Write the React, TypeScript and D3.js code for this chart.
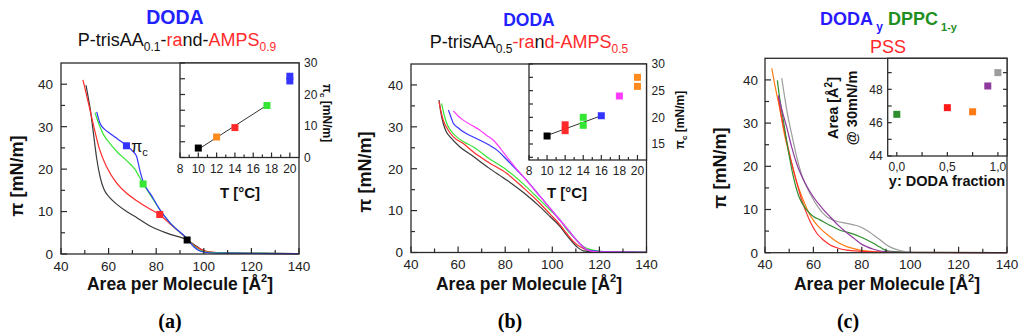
import React from "react";
import * as d3 from "d3";

type Pt = [number, number];
const FONT = "'Liberation Sans', Arial, Helvetica, sans-serif";
const SERIF = "'Liberation Serif', 'Times New Roman', serif";
const AX = "#2b2b2b";

const COL = {
  black: "#3a3a3a",
  red: "#ff2b2b",
  green: "#35e635",
  blue: "#3434ff",
  orange: "#ff8a1e",
  magenta: "#ff3cff",
  dgreen: "#2f8f2f",
  purple: "#8e3a9e",
  gray: "#9c9c9c",
  dorange: "#ff7a12",
};

// ---------- tick labels ----------
const areaTicks = [40, 60, 80, 100, 120, 140];
const areaMinor = [50, 70, 90, 110, 130];
const piTicks = [0, 10, 20, 30, 40];
const piMinor = [5, 15, 25, 35];
const tempTicks = [8, 10, 12, 14, 16, 18, 20];
const tempMinor = [9, 11, 13, 15, 17, 19];
const aPicTicks = [0, 10, 20, 30];
const aPicMinor = [5, 15, 25];
const bPicTicks = [15, 20, 25, 30];
const bPicMinor = [12.5, 17.5, 22.5, 27.5];
const fracTicks = [0, 0.5, 1.0];
const fracMinor = [0.25, 0.75];
const cAreaTicks = [44, 46, 48];
const cAreaMinor = [45, 47, 49];
const cAreaRight = [45, 46, 47, 48, 49];

// ---------- panel (a) isotherms ----------
const aBlack: Pt[] = [[50.5, 39.8], [51.4, 37], [52.2, 34.5], [53.5, 29], [55, 22.5], [56.5, 18], [58, 15.3], [60.3, 13.4], [63.5, 11.7], [67.6, 10], [72, 8.5], [77.4, 6.6], [85, 4.8], [93, 3.3], [97, 1.8], [100, 0.7], [105, 0.3], [115, 0.15], [140, 0.05]];
const aRed: Pt[] = [[49.2, 41], [50.5, 38], [52.2, 33.9], [54, 29.5], [56, 25], [59.2, 20.5], [63, 17], [67.6, 14.3], [72, 12.5], [77, 10.7], [81.3, 9.3], [86, 7], [92.8, 3.7], [96, 2], [98.4, 1.2], [102, 0.5], [110, 0.25], [125, 0.15], [140, 0.1]];
const aGreen: Pt[] = [[54.3, 33.3], [56, 30.5], [58, 28], [60.6, 26], [64, 23.8], [67.6, 22], [71, 20], [74.3, 16.8], [78, 13.5], [81.6, 10.4], [86, 7.2], [92.8, 3.7], [96, 1.8], [98.4, 0.8], [102, 0.4], [110, 0.3], [125, 0.2], [140, 0.1]];
const aBlue: Pt[] = [[55, 33.5], [56.4, 30.8], [58.5, 29.3], [60.6, 28.4], [64, 27], [67.6, 25.5], [70, 24.3], [71.8, 22.9], [73, 20], [74.3, 17.4], [78, 13.8], [81.6, 10.4], [86, 7.2], [92.8, 3.7], [96, 1.6], [98.4, 0.7], [102, 0.3], [110, 0.2], [140, 0.1]];
const aMarkers: { a: number; p: number; c: string }[] = [
  { a: 67.5, p: 25.5, c: COL.blue },
  { a: 74.5, p: 16.5, c: COL.green },
  { a: 81.5, p: 9.3, c: COL.red },
  { a: 93, p: 3.3, c: "#000" },
];
// inset (a): collapse pressure vs temperature
const aInsetT = [10, 12, 14, 17.5, 20, 20];
const aInsetPi = [3, 6.5, 9.5, 16.5, 24.3, 25.8];
const aInsetC = ["#000", COL.orange, COL.red, COL.green, COL.blue, COL.blue];
const aFit: Pt[] = [[10, 2.6], [17.5, 16.6]];

// ---------- panel (b) isotherms ----------
const bBlack: Pt[] = [[51.9, 36.4], [52.5, 34], [53.7, 30.8], [55, 28.8], [56.6, 27.6], [60.8, 25.2], [66.5, 22.9], [73, 20.2], [80.6, 17.3], [88, 14.2], [94.8, 10.9], [99, 8.6], [103.3, 6.2], [106, 4.2], [109, 2.2], [111, 1.1], [113.2, 0.4], [118, 0.15], [125, 0.05], [140, 0]];
const bRed: Pt[] = [[51.9, 36], [52.8, 33.5], [53.7, 31.6], [55.5, 29.5], [58, 27.6], [62.2, 26], [66.5, 24], [73, 21.5], [80.6, 18.9], [88, 15.3], [94.8, 11.7], [99, 9.2], [103.3, 6.6], [106, 4.6], [109, 2.6], [112, 1.3], [114.7, 0.6], [120, 0.2], [140, 0.05]];
const bGreen: Pt[] = [[53, 35.6], [54, 33], [55.2, 30.8], [57, 29], [59.4, 27.6], [62.5, 26.4], [66.5, 25.2], [73, 22.5], [80.6, 19.7], [88, 16.2], [94.8, 12.5], [99, 10.2], [103.3, 7.7], [106, 5.6], [109, 3.7], [112, 2], [114.6, 1], [120.2, 0.3], [125, 0.2], [140, 0.1]];
const bBlue: Pt[] = [[55.9, 34], [57, 32.3], [58, 30.8], [60, 29.8], [62.2, 28.8], [66, 27.7], [69.3, 26.8], [73, 25.7], [76.4, 24.5], [80.6, 22.2], [84, 20.2], [87.7, 18.1], [94.8, 13.4], [99, 10.6], [103.3, 7.7], [107, 5.2], [110.4, 2.9], [112.5, 1.6], [114.6, 0.7], [120, 0.25], [140, 0.05]];
const bMagenta: Pt[] = [[58, 33.8], [60, 32.6], [62.2, 31.6], [66, 30.3], [69.3, 29.2], [72, 28], [75, 26.8], [78, 24.8], [80.6, 22.9], [84, 20.5], [87.7, 18.1], [94.8, 13.4], [99, 10.6], [103.3, 7.7], [107, 5.2], [110.4, 2.9], [113, 1.4], [116, 0.4], [120, 0.15], [140, 0.05]];
// inset (b)
const bInsetT = [10, 12, 12, 14, 14, 16, 18, 20, 20];
const bInsetPi = [16.5, 17.5, 18.6, 18.5, 20, 20.3, 24, 25.8, 27.5];
const bInsetC = ["#000", COL.red, COL.red, COL.green, COL.green, COL.blue, COL.magenta, COL.orange, COL.orange];
const bFit: Pt[] = [[10, 16.6], [16, 20.3]];

// ---------- panel (c) isotherms ----------
const cOrange: Pt[] = [[42.8, 42.7], [44, 39], [46.2, 33], [48, 27.5], [50.3, 22.2], [53, 16.5], [55.8, 12.2], [58, 9.3], [60, 7.5], [63, 5.5], [66.9, 3.7], [70, 2.4], [73.8, 1.4], [79.3, 0.6], [87.2, 0.2], [100, 0.05], [140, 0]];
const cRed: Pt[] = [[45.5, 36], [46.5, 32.5], [48.5, 27], [50.5, 22], [53, 16.5], [55, 12.5], [57.2, 9.1], [59, 6.8], [61.4, 4.5], [64, 3], [66.9, 1.8], [70, 1.1], [73.8, 0.6], [80, 0.3], [90, 0.1], [140, 0]];
const cGreen: Pt[] = [[45.1, 39.9], [46, 36], [47.6, 30.6], [49.5, 24], [51.7, 17.6], [54, 13], [57.2, 9.9], [60, 8.4], [62.7, 7.6], [66, 6.6], [71, 5.2], [75, 4.6], [79.3, 3.7], [82, 3], [84.8, 2.2], [87.5, 1.3], [90.3, 0.5], [95, 0.2], [101, 0.1], [140, 0]];
const cGray: Pt[] = [[46.9, 40.4], [48, 36.5], [49, 33], [51, 27.5], [53.1, 22.2], [55.5, 17.5], [58.6, 13.7], [62, 10.5], [65.5, 8.3], [69, 7.4], [73.8, 6.8], [77, 6.4], [79.3, 6], [82, 5.2], [84.8, 4.1], [87.5, 3], [90.3, 1.8], [93, 1], [95.8, 0.5], [101, 0.1], [140, 0]];
const cPurple: Pt[] = [[45.5, 36.4], [47, 33], [49, 29], [51, 24.5], [53.1, 20.6], [56.5, 16.2], [60, 12.9], [63.5, 10.4], [66.9, 8.3], [70, 6.5], [73.8, 4.6], [77, 3.2], [79.3, 2.2], [82, 1.4], [84.8, 0.8], [90.3, 0.2], [100, 0.05], [140, 0]];
// inset (c)
const cInsetY = [0, 0.5, 0.75, 0.9, 1.0];
const cInsetArea = [46.5, 46.9, 46.65, 48.2, 49.0];
const cInsetC = [COL.dgreen, "#ff1a1a", COL.dorange, COL.purple, COL.gray];

type Scale = d3.ScaleLinear<number, number>;

function Box({ x, y }: { x: Scale; y: Scale }) {
  const [x0, x1] = x.range();
  const [y0, y1] = y.range();
  return (
    <rect x={x0} y={y1} width={x1 - x0} height={y0 - y1} fill="none" stroke={AX} strokeWidth={1.3} />
  );
}

function BottomTicks({ x, y, major, minor, maj = 6, min = 4, fmt, fs = 14, dy = 19, labels = true }: any) {
  const y0 = y.range()[0];
  return (
    <g>
      {major.map((v: number) => (
        <line key={"M" + v} x1={x(v)} x2={x(v)} y1={y0} y2={y0 - maj} stroke={AX} strokeWidth={1.2} />
      ))}
      {minor.map((v: number) => (
        <line key={"m" + v} x1={x(v)} x2={x(v)} y1={y0} y2={y0 - min} stroke={AX} strokeWidth={1.2} />
      ))}
      {labels &&
        major.map((v: number) => (
          <text key={"t" + v} x={x(v)} y={y0 + dy} fontSize={fs} fontFamily={FONT} textAnchor="middle" fill="#222">
            {fmt ? fmt(v) : v}
          </text>
        ))}
    </g>
  );
}

function LeftTicks({ x, y, major, minor, maj = 6, min = 4, fmt, fs = 14, dx = 8, labels = true }: any) {
  const x0 = x.range()[0];
  return (
    <g>
      {major.map((v: number) => (
        <line key={"M" + v} x1={x0} x2={x0 + maj} y1={y(v)} y2={y(v)} stroke={AX} strokeWidth={1.2} />
      ))}
      {minor.map((v: number) => (
        <line key={"m" + v} x1={x0} x2={x0 + min} y1={y(v)} y2={y(v)} stroke={AX} strokeWidth={1.2} />
      ))}
      {labels &&
        major.map((v: number) => (
          <text key={"t" + v} x={x0 - dx} y={y(v)} dy="0.36em" fontSize={fs} fontFamily={FONT} textAnchor="end" fill="#222">
            {fmt ? fmt(v) : v}
          </text>
        ))}
    </g>
  );
}

function RightLabels({ x, y, major, fs = 12, dx = 5 }: any) {
  const x1 = x.range()[1];
  return (
    <g>
      {major.map((v: number) => (
        <text key={"r" + v} x={x1 + dx} y={y(v)} dy="0.36em" fontSize={fs} fontFamily={FONT} textAnchor="start" fill="#222">
          {v}
        </text>
      ))}
    </g>
  );
}

function Curves({ x, y, series }: { x: Scale; y: Scale; series: { d: Pt[]; c: string }[] }) {
  const line = d3
    .line<Pt>()
    .x((d) => x(d[0]))
    .y((d) => y(d[1]))
    .curve(d3.curveMonotoneX);
  return (
    <g>
      {series.map((s, i) => (
        <path key={i} d={line(s.d) || ""} fill="none" stroke={s.c} strokeWidth={1.2} />
      ))}
    </g>
  );
}

function Sq({ cx, cy, c, s = 7 }: { cx: number; cy: number; c: string; s?: number }) {
  return <rect x={cx - s / 2} y={cy - s / 2} width={s} height={s} fill={c} />;
}

function XTitle({ cx, y }: { cx: number; y: number }) {
  return (
    <text x={cx} y={y} fontSize={17.5} fontWeight="bold" fontFamily={FONT} textAnchor="middle" fill="#111">
      Area per Molecule [Å
      <tspan fontSize={11} dy={-8}>2</tspan>
      <tspan dy={8}>]</tspan>
    </text>
  );
}

function YTitle({ cx, cy }: { cx: number; cy: number }) {
  return (
    <text
      transform={`translate(${cx},${cy}) rotate(-90)`}
      fontSize={18}
      fontWeight="bold"
      fontFamily={FONT}
      textAnchor="middle"
      dy="0.35em"
      fill="#111"
    >
      π [mN/m]
    </text>
  );
}

function PicLabel({ cx, cy, rot }: { cx: number; cy: number; rot: number }) {
  return (
    <text
      transform={`translate(${cx},${cy}) rotate(${rot})`}
      fontSize={12}
      fontWeight="bold"
      fontFamily={FONT}
      textAnchor="middle"
      dy="0.35em"
      fill="#111"
    >
      π<tspan fontSize={8} dy={3}>c</tspan>
      <tspan dy={-3}> [mN/m]</tspan>
    </text>
  );
}

export default function App() {
  // ---- panel a scales
  const ax = d3.scaleLinear().domain([40, 140]).range([61, 299]);
  const ay = d3.scaleLinear().domain([0, 45]).range([254, 63]);
  const aix = d3.scaleLinear().domain([8, 21]).range([180, 299]);
  const aiy = d3.scaleLinear().domain([0, 30]).range([157.5, 63]);
  // ---- panel b scales
  const bx = d3.scaleLinear().domain([40, 140]).range([411, 646.5]);
  const by = d3.scaleLinear().domain([0, 45]).range([252.5, 64]);
  const bix = d3.scaleLinear().domain([8, 21]).range([529, 646.5]);
  const biy = d3.scaleLinear().domain([12, 30]).range([160, 64]);
  // ---- panel c scales
  const cx = d3.scaleLinear().domain([40, 140]).range([765, 1007]);
  const cy = d3.scaleLinear().domain([0, 45]).range([252.7, 58.3]);
  const cix = d3.scaleLinear().domain([-0.09, 1.09]).range([887.7, 1007]);
  const ciy = d3.scaleLinear().domain([44, 49.86]).range([156, 58.3]);

  const comma = (v: number) => v.toFixed(1).replace(".", ",");

  return (
    <svg width={1024} height={335} style={{ position: "absolute", left: 0, top: 0, background: "#fff" }}>
      <rect x={0} y={0} width={1024} height={335} fill="#fff" />

      {/* ================= panel (a) ================= */}
      <text x={175} y={24} fontSize={19.5} fontWeight="bold" fontFamily={FONT} textAnchor="middle" fill="#2222ff">
        DODA
      </text>
      <text x={177} y={46} fontSize={18} fontFamily={FONT} textAnchor="middle" fill="#111">
        P-trisAA<tspan fontSize={12} dy={5}>0.1</tspan>
        <tspan dy={-5}>-</tspan>
        <tspan fill={COL.red}>ra</tspan>
        <tspan>nd</tspan>-<tspan fill={COL.red}>AMPS</tspan>
        <tspan fontSize={12} dy={5} fill={COL.red}>0.9</tspan>
      </text>
      <Curves x={ax} y={ay} series={[{ d: aBlack, c: COL.black }, { d: aRed, c: COL.red }, { d: aGreen, c: COL.green }, { d: aBlue, c: COL.blue }]} />
      {aMarkers.map((m, i) => (
        <Sq key={i} cx={ax(m.a)} cy={ay(m.p)} c={m.c} s={7} />
      ))}
      <text x={ax(69.5)} y={ay(24)} fontSize={16} fontFamily={FONT} fill="#111">
        π<tspan fontSize={11} dy={4}>c</tspan>
      </text>
      <Box x={ax} y={ay} />
      <BottomTicks x={ax} y={ay} major={areaTicks} minor={areaMinor} fs={13.5} dy={16.5} />
      <LeftTicks x={ax} y={ay} major={piTicks} minor={piMinor} fs={13.5} />
      <XTitle cx={180} y={290} />
      <YTitle cx={17} cy={176} />
      {/* inset a */}
      <rect x={180} y={63} width={119} height={94.5} fill="#fff" />
      <line x1={aix(aFit[0][0])} y1={aiy(aFit[0][1])} x2={aix(aFit[1][0])} y2={aiy(aFit[1][1])} stroke="#333" strokeWidth={1} />
      {aInsetT.map((t, i) => (
        <Sq key={i} cx={aix(t)} cy={aiy(aInsetPi[i])} c={aInsetC[i]} s={7} />
      ))}
      <Box x={aix} y={aiy} />
      <BottomTicks x={aix} y={aiy} major={tempTicks} minor={tempMinor} maj={5} min={3} fs={12} dy={15} />
      <LeftTicks x={aix} y={aiy} major={aPicTicks} minor={aPicMinor} maj={5} min={5} labels={false} />
      <RightLabels x={aix} y={aiy} major={aPicTicks} />
      <text x={240} y={198} fontSize={15} fontWeight="bold" fontFamily={FONT} textAnchor="middle" fill="#111">
        T [°C]
      </text>
      <PicLabel cx={327} cy={113} rot={90} />
      <text x={170} y={328} fontSize={20} fontWeight="bold" fontFamily={SERIF} textAnchor="middle" fill="#000">
        (a)
      </text>

      {/* ================= panel (b) ================= */}
      <text x={529} y={26} fontSize={17.5} fontWeight="bold" fontFamily={FONT} textAnchor="middle" fill="#2222ff">
        DODA
      </text>
      <text x={529} y={48} fontSize={18} fontFamily={FONT} textAnchor="middle" fill="#111">
        P-trisAA<tspan fontSize={12} dy={5}>0.5</tspan>
        <tspan dy={-5} fill={COL.red}>-ra</tspan>
        <tspan>n</tspan>
        <tspan fill={COL.red}>d-AMPS</tspan>
        <tspan fontSize={12} dy={5} fill={COL.red}>0.5</tspan>
      </text>
      <Curves x={bx} y={by} series={[{ d: bBlack, c: COL.black }, { d: bRed, c: COL.red }, { d: bGreen, c: COL.green }, { d: bBlue, c: COL.blue }, { d: bMagenta, c: COL.magenta }]} />
      <Box x={bx} y={by} />
      <BottomTicks x={bx} y={by} major={areaTicks} minor={areaMinor} fs={13.5} dy={16.5} />
      <LeftTicks x={bx} y={by} major={piTicks} minor={piMinor} fs={13.5} />
      <XTitle cx={529} y={290} />
      <YTitle cx={365} cy={172} />
      {/* inset b */}
      <rect x={529} y={64} width={117.5} height={96} fill="#fff" />
      <line x1={bix(bFit[0][0])} y1={biy(bFit[0][1])} x2={bix(bFit[1][0])} y2={biy(bFit[1][1])} stroke="#333" strokeWidth={1} />
      {bInsetT.map((t, i) => (
        <Sq key={i} cx={bix(t)} cy={biy(bInsetPi[i])} c={bInsetC[i]} s={7} />
      ))}
      <Box x={bix} y={biy} />
      <BottomTicks x={bix} y={biy} major={tempTicks} minor={tempMinor} maj={5} min={3} fs={12} dy={15} />
      <LeftTicks x={bix} y={biy} major={bPicTicks} minor={bPicMinor} maj={4} min={4} labels={false} />
      <RightLabels x={bix} y={biy} major={bPicTicks} />
      <text x={567} y={198} fontSize={15} fontWeight="bold" fontFamily={FONT} textAnchor="middle" fill="#111">
        T [°C]
      </text>
      <PicLabel cx={680} cy={120} rot={-90} />
      <text x={510} y={328} fontSize={20} fontWeight="bold" fontFamily={SERIF} textAnchor="middle" fill="#000">
        (b)
      </text>

      {/* ================= panel (c) ================= */}
      <text x={820} y={25} fontSize={18} fontWeight="bold" fontFamily={FONT} fill="#2a1aff">
        DODA
        <tspan fontSize={12} dy={6} fill="#2a1aff"> y</tspan>
        <tspan dy={-6} fill="#1f8f1f"> DPPC</tspan>
        <tspan fontSize={11} dy={6} fill="#1f8f1f"> 1-y</tspan>
      </text>
      <text x={888} y={53} fontSize={18} fontFamily={FONT} textAnchor="middle" fill="#ff2a2a">
        PSS
      </text>
      <Curves x={cx} y={cy} series={[{ d: cOrange, c: COL.dorange }, { d: cRed, c: "#ff3030" }, { d: cGreen, c: COL.dgreen }, { d: cGray, c: COL.gray }, { d: cPurple, c: COL.purple }]} />
      <Box x={cx} y={cy} />
      <BottomTicks x={cx} y={cy} major={areaTicks} minor={areaMinor} fs={13.5} dy={16.5} />
      <LeftTicks x={cx} y={cy} major={piTicks} minor={piMinor} fs={13.5} dx={7} />
      <XTitle cx={887} y={290} />
      <YTitle cx={720} cy={168} />
      {/* inset c */}
      <rect x={887.7} y={58.3} width={119.3} height={97.7} fill="#fff" />
      {cInsetY.map((v, i) => (
        <Sq key={i} cx={cix(v)} cy={ciy(cInsetArea[i])} c={cInsetC[i]} s={7} />
      ))}
      <Box x={cix} y={ciy} />
      <BottomTicks x={cix} y={ciy} major={fracTicks} minor={fracMinor} maj={4} min={4} fs={12} dy={15} fmt={comma} />
      <LeftTicks x={cix} y={ciy} major={cAreaTicks} minor={cAreaMinor} maj={4} min={4} fs={12} dx={5} />
      {cAreaRight.map((v) => (
        <line key={v} x1={1007} x2={1003} y1={ciy(v)} y2={ciy(v)} stroke={AX} strokeWidth={1.2} />
      ))}
      <text x={947} y={186} fontSize={14.5} fontWeight="bold" fontFamily={FONT} textAnchor="middle" fill="#111">
        y: DODA fraction
      </text>
      <text transform="translate(838,108) rotate(-90)" fontSize={14.5} fontWeight="bold" fontFamily={FONT} textAnchor="middle" fill="#111">
        Area [Å<tspan fontSize={10} dy={-6}>2</tspan>
        <tspan dy={6}>]</tspan>
      </text>
      <text transform="translate(857,108) rotate(-90)" fontSize={14.5} fontWeight="bold" fontFamily={FONT} textAnchor="middle" fill="#111">
        @ 30mN/m
      </text>
      <text x={848} y={328} fontSize={20} fontWeight="bold" fontFamily={SERIF} textAnchor="middle" fill="#000">
        (c)
      </text>
    </svg>
  );
}
